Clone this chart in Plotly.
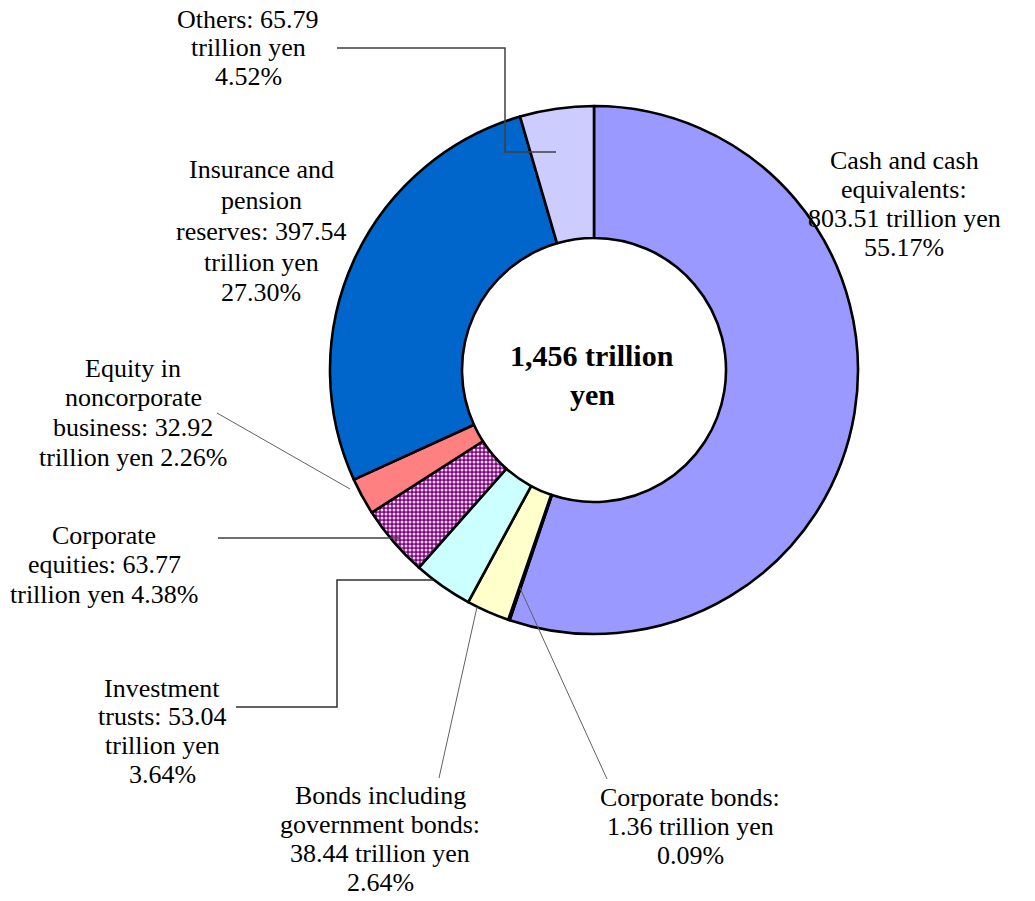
import plotly.graph_objects as go

W, H = 1035, 901

categories = [
    "Cash and cash equivalents",
    "Corporate bonds",
    "Bonds including government bonds",
    "Investment trusts",
    "Corporate equities",
    "Equity in noncorporate business",
    "Insurance and pension reserves",
    "Others",
]
values = [803.51, 1.36, 38.44, 53.04, 63.77, 32.92, 397.54, 65.79]
colors = ["#9999FF", "#993366", "#FFFFCC", "#CCFFFF", "#800080", "#FF8080", "#0066CC", "#CCCCFF"]

label_lines = [
    ["Cash and cash", "equivalents:", "803.51 trillion yen", "55.17%"],
    ["Corporate bonds:", "1.36 trillion yen", "0.09%"],
    ["Bonds including", "government bonds:", "38.44 trillion yen", "2.64%"],
    ["Investment", "trusts: 53.04", "trillion yen", "3.64%"],
    ["Corporate", "equities: 63.77", "trillion yen 4.38%"],
    ["Equity in", "noncorporate", "business: 32.92", "trillion yen 2.26%"],
    ["Insurance and", "pension", "reserves: 397.54", "trillion yen", "27.30%"],
    ["Others: 65.79", "trillion yen", "4.52%"],
]
center_lines = ["1,456 trillion", "yen"]

# layout positions (pixels)
label_pos = [
    (904, 160, 29.2),
    (690, 797, 29.2),
    (380, 795, 29.2),
    (162, 688, 28.8),
    (104, 535, 29.5),
    (133, 368, 29.7),
    (261, 170, 30.7),
    (248, 19, 29.0),
]
leaders = [
    ([(337, 48), (505, 48), (505, 152), (556, 152)], "#404040", 1.5),
    ([(217, 413), (350, 489)], "#606060", 1.0),
    ([(218, 538), (400, 538)], "#404040", 1.3),
    ([(236, 707), (337, 707), (337, 580), (433, 580)], "#303030", 1.5),
    ([(439, 778), (477, 607)], "#606060", 1.0),
    ([(607, 779), (520, 588)], "#606060", 1.0),
]

cx, cy, R = 594, 370, 264


def px(x):
    return x / W


def py(y):
    return 1 - y / H


patterns = [dict(shape="")] * len(values)
patterns[4] = dict(shape=".", fgcolor="#F4D8F4", bgcolor="#800080", size=4, solidity=0.45)

fig = go.Figure(
    go.Pie(
        labels=categories,
        values=values,
        sort=False,
        direction="clockwise",
        rotation=0,
        hole=0.5,
        textinfo="none",
        hoverinfo="label+value+percent",
        marker=dict(
            colors=colors,
            line=dict(color="black", width=2.6),
            pattern=dict(
                shape=[p.get("shape", "") for p in patterns],
                fgcolor=[p.get("fgcolor", "white") for p in patterns],
                bgcolor=[p.get("bgcolor", c) for p, c in zip(patterns, colors)],
                size=[p.get("size", 8) for p in patterns],
                solidity=[p.get("solidity", 0.3) for p in patterns],
            ),
        ),
        domain=dict(x=[px(cx - R), px(cx + R)], y=[py(cy + R), py(cy - R)]),
        showlegend=False,
    )
)

font = dict(family="Liberation Serif, Times New Roman, serif", size=26, color="black")
annotations = []
for lines, (x, y0, dy) in zip(label_lines, label_pos):
    for i, t in enumerate(lines):
        annotations.append(dict(
            x=px(x), y=py(y0 + i * dy), xref="paper", yref="paper",
            text=t, showarrow=False, xanchor="center", yanchor="middle", font=font,
        ))
for i, t in enumerate(center_lines):
    annotations.append(dict(
        x=px(592), y=py(355 + i * 40), xref="paper", yref="paper",
        text="<b>" + t + "</b>", showarrow=False, xanchor="center", yanchor="middle",
        font=dict(family="Liberation Serif, Times New Roman, serif", size=30, color="black"),
    ))

shapes = []
for pts, col, w in leaders:
    path = "M " + " L ".join(f"{px(x)},{py(y)}" for x, y in pts)
    shapes.append(dict(type="path", path=path, xref="paper", yref="paper",
                       line=dict(color=col, width=w)))

fig.update_layout(
    width=W, height=H,
    margin=dict(l=0, r=0, t=0, b=0),
    paper_bgcolor="white",
    plot_bgcolor="white",
    annotations=annotations,
    shapes=shapes,
)

fig.write_html(
    "out.html",
    config={"displayModeBar": False},
    post_script="document.body.style.margin='0';document.body.style.overflow='hidden';",
)
